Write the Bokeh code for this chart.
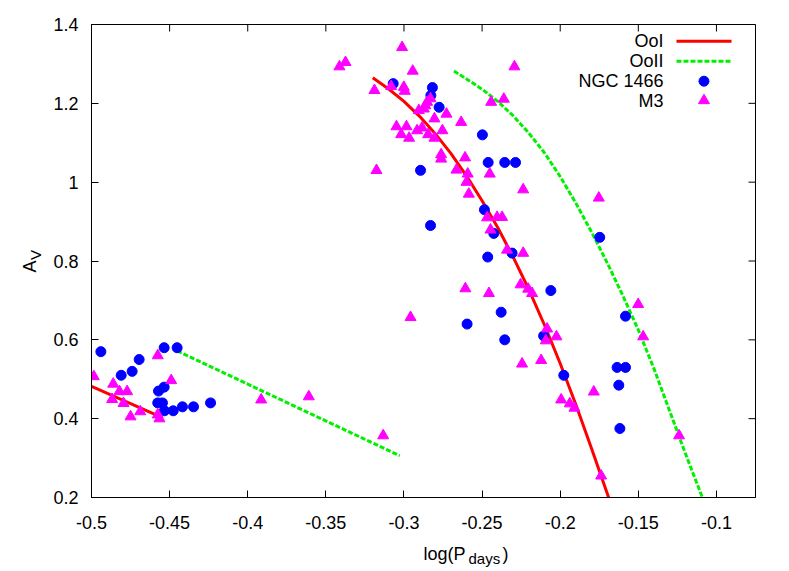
import math
from bokeh.plotting import figure
from bokeh.layouts import row, column
from bokeh.models import Range1d, FixedTicker
from bokeh.embed import file_html
from bokeh.resources import INLINE
from bokeh.core.properties import value

# ---------------- data ----------------
ooi_left_x = [-0.500, -0.4576]
ooi_left_y = [0.482, 0.408]
ooi_x = [-0.320, -0.310, -0.300, -0.290, -0.280, -0.270, -0.260, -0.250,
         -0.240, -0.230, -0.220, -0.210, -0.200, -0.190, -0.180, -0.169]
ooi_y = [1.265, 1.237, 1.205, 1.167, 1.123, 1.073, 1.016, 0.953,
         0.885, 0.809, 0.727, 0.637, 0.540, 0.436, 0.325, 0.200]

ooii_left_x = [-0.4452, -0.3027]
ooii_left_y = [0.572, 0.306]
ooii_x = [-0.268, -0.260, -0.250, -0.240, -0.230, -0.220, -0.210, -0.200, -0.190,
          -0.180, -0.170, -0.160, -0.150, -0.140, -0.130, -0.120, -0.109]
ooii_y = [1.282, 1.262, 1.236, 1.205, 1.168, 1.124, 1.074, 1.014, 0.947,
          0.874, 0.796, 0.713, 0.625, 0.527, 0.420, 0.313, 0.200]

ngc_x = [-0.494, -0.481, -0.474, -0.4695, -0.4535, -0.4452, -0.4571, -0.4535,
         -0.4576, -0.4546, -0.4533, -0.4477, -0.4418, -0.4347, -0.4238,
         -0.3069, -0.2818, -0.2828, -0.2775, -0.2498, -0.2461, -0.2355, -0.2286,
         -0.2894, -0.2485, -0.2425, -0.2464, -0.2308, -0.2830, -0.1747, -0.2060,
         -0.2378, -0.2596, -0.2355, -0.2106, -0.1582, -0.1977, -0.1636, -0.1582,
         -0.1625, -0.1618]
ngc_y = [0.57, 0.51, 0.52, 0.55, 0.58, 0.58, 0.47, 0.48,
         0.44, 0.44, 0.42, 0.42, 0.43, 0.43, 0.44,
         1.25, 1.24, 1.22, 1.19, 1.12, 1.05, 1.05, 1.05,
         1.03, 0.93, 0.87, 0.81, 0.82, 0.89, 0.86, 0.725,
         0.67, 0.64, 0.60, 0.61, 0.66, 0.51, 0.53, 0.53,
         0.485, 0.375]

m3_x = [-0.4985, -0.4861, -0.4821, -0.4772, -0.4868, -0.4795, -0.4750, -0.4688,
        -0.4576, -0.4490, -0.4576, -0.4565,
        -0.3914, -0.3609, -0.3133, -0.2958, -0.3413, -0.3374,
        -0.3012, -0.2944, -0.2293, -0.3189, -0.3082, -0.3001, -0.2995, -0.2830,
        -0.2852, -0.2863, -0.2873, -0.2905, -0.2728, -0.2805, -0.2634, -0.3048,
        -0.2984, -0.2884, -0.2916, -0.3018, -0.2967, -0.2845, -0.2754, -0.2805,
        -0.2762, -0.2762, -0.2609, -0.3176, -0.2664, -0.2592, -0.2451, -0.2600,
        -0.2585, -0.2442, -0.2361, -0.2237,
        -0.1753, -0.2468, -0.2404, -0.2372, -0.2446, -0.2340, -0.2237, -0.2254,
        -0.2205, -0.2180, -0.2607, -0.2456, -0.2084, -0.2092, -0.2024, -0.2244,
        -0.2122, -0.1785, -0.1994, -0.1939, -0.1909,
        -0.1501, -0.1469, -0.1239, -0.1738]
m3_y = [0.507, 0.488, 0.469, 0.469, 0.449, 0.439, 0.405, 0.418,
        0.560, 0.497, 0.410, 0.400,
        0.448, 0.456, 0.357, 0.657, 1.293, 1.304,
        1.342, 1.282, 1.293, 1.233, 1.243, 1.241, 1.231, 1.212,
        1.203, 1.194, 1.186, 1.182, 1.173, 1.161, 1.152, 1.141,
        1.141, 1.138, 1.131, 1.121, 1.112, 1.121, 1.131, 1.112,
        1.070, 1.059, 1.062, 1.030, 1.031, 1.021, 1.021, 1.000,
        0.970, 1.203, 1.211, 0.981,
        0.960, 0.910, 0.911, 0.911, 0.879, 0.828, 0.820, 0.740,
        0.729, 0.718, 0.730, 0.718, 0.628, 0.598, 0.608, 0.539,
        0.548, 0.468, 0.448, 0.438, 0.427,
        0.690, 0.608, 0.357, 0.255]

x_ticks = [-0.5, -0.45, -0.4, -0.35, -0.3, -0.25, -0.2, -0.15, -0.1]
x_tick_labels = ["-0.5", "-0.45", "-0.4", "-0.35", "-0.3", "-0.25", "-0.2", "-0.15", "-0.1"]
y_ticks = [0.2, 0.4, 0.6, 0.8, 1.0, 1.2, 1.4]
y_tick_labels = ["0.2", "0.4", "0.6", "0.8", "1", "1.2", "1.4"]

series_names = ["OoI", "OoII", "NGC 1466", "M3"]
x_title = ["log(P", "days", ")"]
y_title = ["A", "V"]

# ---------------- styling ----------------
FONT = "Liberation Sans"
FS = "18px"
SUB = "15px"
RED = "#ff0000"
GREEN = "#00f000"
BLUE = "#0000ff"
MAGENTA = "#ff00ff"

FW, FH = 664, 473            # frame size
LW = 46                      # width of the y-title strip
BL, BR, BT, BB = 45, 34, 24, 36
XH = 38                      # height of the x-title strip
MAIN_H = BT + FH + BB
MAIN_W = BL + FW + BR

p = figure(frame_width=FW, frame_height=FH,
           x_range=Range1d(-0.5, -0.075), y_range=Range1d(0.2, 1.4),
           output_backend="svg", toolbar_location=None,
           min_border_left=BL, min_border_right=BR,
           min_border_top=BT, min_border_bottom=BB)
p.extra_x_ranges = {"frac": Range1d(0, 1)}
p.extra_y_ranges = {"frac": Range1d(0, 1)}

p.grid.visible = False
p.outline_line_color = "black"
p.outline_line_width = 1
p.background_fill_color = "white"
p.border_fill_color = "white"

p.xaxis.ticker = FixedTicker(ticks=x_ticks)
p.xaxis.major_label_overrides = {t: s for t, s in zip(x_ticks, x_tick_labels)}
p.yaxis.ticker = FixedTicker(ticks=y_ticks)
p.yaxis.major_label_overrides = {t: s for t, s in zip(y_ticks, y_tick_labels)}
for ax in list(p.xaxis) + list(p.yaxis):
    ax.major_tick_in = 7
    ax.major_tick_out = 0
    ax.minor_tick_line_color = None
    ax.axis_line_color = "black"
    ax.major_tick_line_color = "black"
    ax.major_label_text_font = FONT
    ax.major_label_text_font_size = FS
    ax.major_label_text_color = "black"
p.xaxis.major_label_standoff = 18
p.yaxis.major_label_standoff = 13

# mirrored ticks on top and right (half of a 14px dash is clipped by the frame)
p.scatter(x_ticks, [p.y_range.end] * len(x_ticks), marker="dash", size=14,
          angle=math.pi / 2, line_color="black", line_width=1)
p.scatter([p.x_range.end] * len(y_ticks), y_ticks, marker="dash", size=14,
          line_color="black", line_width=1)

# ---------------- data marks ----------------
p.line(ooi_left_x, ooi_left_y, line_color=RED, line_width=3)
p.line(ooi_x, ooi_y, line_color=RED, line_width=3)
p.line(ooii_left_x, ooii_left_y, line_color=GREEN, line_width=3, line_dash="5 2")
p.line(ooii_x, ooii_y, line_color=GREEN, line_width=3, line_dash="5 2")
p.scatter(ngc_x, ngc_y, marker="circle", size=10, fill_color=BLUE, line_color=BLUE)
p.scatter(m3_x, m3_y, marker="triangle", size=11, fill_color=MAGENTA, line_color=MAGENTA)

# ---------------- legend (gnuplot style: text, then sample on the right) ----------------
leg_text_x = 0.8614
leg_line_x = [0.881, 0.9639]
leg_mark_x = 0.9224
leg_rows = [0.9647, 0.9224, 0.8801, 0.8393]

p.text(x=[leg_text_x] * 4, y=leg_rows, text=series_names,
       x_range_name="frac", y_range_name="frac",
       text_align="right", text_baseline="middle",
       text_font=value(FONT), text_font_size=FS, text_color="black")
p.line(leg_line_x, [leg_rows[0]] * 2, x_range_name="frac", y_range_name="frac",
       line_color=RED, line_width=3)
p.line(leg_line_x, [leg_rows[1]] * 2, x_range_name="frac", y_range_name="frac",
       line_color=GREEN, line_width=3, line_dash="5 2")
p.scatter([leg_mark_x], [leg_rows[2]], x_range_name="frac", y_range_name="frac",
          marker="circle", size=10, fill_color=BLUE, line_color=BLUE)
p.scatter([leg_mark_x], [leg_rows[3]], x_range_name="frac", y_range_name="frac",
          marker="triangle", size=11, fill_color=MAGENTA, line_color=MAGENTA)

# ---------------- axis titles (pixel-unit strips) ----------------
def strip(w, h):
    f = figure(frame_width=w, frame_height=h, x_range=Range1d(0, w), y_range=Range1d(0, h),
               output_backend="svg", toolbar_location=None, min_border=0)
    f.axis.visible = False
    f.grid.visible = False
    f.outline_line_color = None
    f.background_fill_color = "white"
    f.border_fill_color = "white"
    return f

ly = strip(LW, MAIN_H)
ly.text(x=[29], y=[MAIN_H - 266], text=[y_title[0]], angle=math.pi / 2,
        text_align="center", text_baseline="middle",
        text_font=value(FONT), text_font_size=FS, text_color="black")
ly.text(x=[34.5], y=[MAIN_H - 254.5], text=[y_title[1]], angle=math.pi / 2,
        text_align="center", text_baseline="middle",
        text_font=value(FONT), text_font_size=SUB, text_color="black")

bx = strip(MAIN_W, XH)
bx.text(x=[420 - LW], y=[XH - 20], text=[x_title[0]], text_align="right",
        text_baseline="alphabetic",
        text_font=value(FONT), text_font_size=FS, text_color="black")
bx.text(x=[423 - LW], y=[XH - 25], text=[x_title[1]], text_align="left",
        text_baseline="alphabetic",
        text_font=value(FONT), text_font_size=SUB, text_color="black")
bx.text(x=[457 - LW], y=[XH - 20], text=[x_title[2]], text_align="left",
        text_baseline="alphabetic",
        text_font=value(FONT), text_font_size=FS, text_color="black")

layout = row(ly, column(p, bx, spacing=0), spacing=0)
open("out.html", "w").write(file_html(layout, INLINE))
